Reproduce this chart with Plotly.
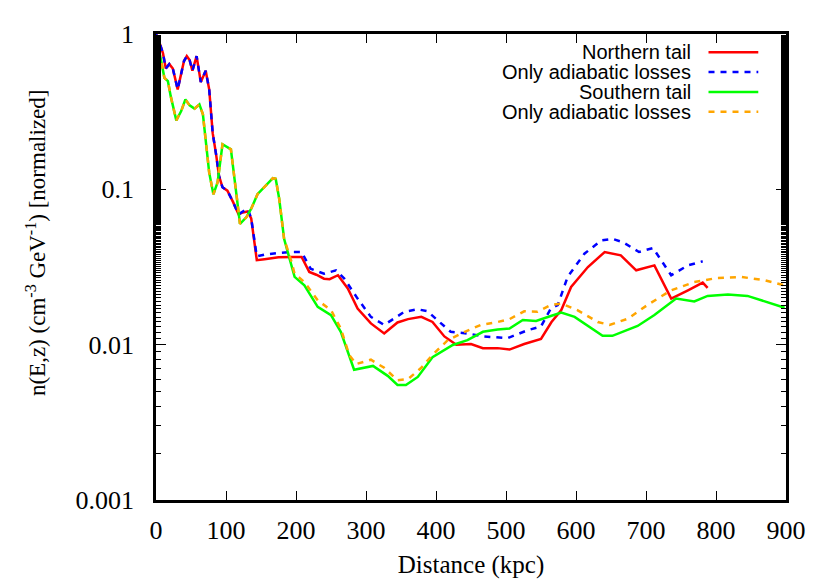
import plotly.graph_objects as go

# Northern tail (full losses)
north_x = [0, 5, 10, 14, 19, 24, 31, 40, 44, 48, 52, 58, 64, 71, 76, 81, 86, 90, 95,
           102, 110, 118, 124, 131, 136, 144, 155, 175, 195, 208, 219, 229, 240, 248,
           260, 274, 288, 307, 326, 345, 360, 379, 395, 412, 429, 450, 467, 488, 505,
           526, 550, 565, 579, 593, 617, 641, 664, 686, 712, 736, 760, 781, 788]
north_y = [1.0, 0.88, 0.75, 0.6, 0.64, 0.6, 0.44, 0.67, 0.72, 0.68, 0.58, 0.72, 0.49,
           0.58, 0.44, 0.23, 0.166, 0.122, 0.103, 0.098, 0.083, 0.069, 0.071, 0.072,
           0.065, 0.035, 0.0355, 0.0365, 0.0367, 0.0367, 0.0294, 0.0282, 0.0266,
           0.0264, 0.028, 0.023, 0.0171, 0.0137, 0.0118, 0.0139, 0.0146, 0.0151,
           0.014, 0.0113, 0.0100, 0.0101, 0.0095, 0.0095, 0.0093, 0.0101, 0.0109,
           0.0140, 0.0167, 0.0235, 0.0316, 0.0395, 0.0376, 0.0301, 0.0324, 0.0198,
           0.0224, 0.0251, 0.0232]

# Northern tail, only adiabatic losses
north_ad_x = [0, 5, 10, 14, 19, 24, 31, 40, 44, 48, 52, 58, 64, 71, 76, 81, 86, 90, 95,
              102, 110, 118, 124, 131, 136, 144, 155, 175, 195, 208, 221, 240, 257, 269,
              288, 307, 326, 355, 374, 388, 405, 421, 445, 469, 502, 531, 550, 564, 574,
              588, 612, 636, 652, 667, 690, 710, 736, 760, 781]
north_ad_y = [1.0, 0.88, 0.75, 0.6, 0.64, 0.6, 0.44, 0.67, 0.72, 0.68, 0.58, 0.72, 0.49,
              0.58, 0.44, 0.23, 0.166, 0.122, 0.103, 0.098, 0.083, 0.069, 0.072, 0.075,
              0.065, 0.037, 0.038, 0.039, 0.0395, 0.0395, 0.0308, 0.0286, 0.0301, 0.0266,
              0.0198, 0.0151, 0.0134, 0.0163, 0.0169, 0.0164, 0.014, 0.0121, 0.0118,
              0.0113, 0.011, 0.0124, 0.0131, 0.0171, 0.018, 0.0273, 0.0385, 0.0469,
              0.048, 0.0457, 0.0395, 0.0419, 0.028, 0.0324, 0.0344]

# Southern tail (full losses)
south_x = [0, 2, 7, 12, 17, 21, 29, 36, 42, 48, 55, 62, 67, 71, 76, 82, 88, 95, 102, 107,
           114, 120, 129, 136, 145, 157, 167, 171, 176, 183, 193, 198, 212, 231, 250,
           264, 283, 310, 331, 345, 357, 374, 395, 424, 445, 467, 488, 505, 524, 543,
           564, 579, 598, 638, 652, 688, 712, 743, 769, 788, 817, 845, 898]
south_y = [0.9, 0.875, 0.684, 0.522, 0.498, 0.398, 0.278, 0.319, 0.379, 0.347, 0.331,
           0.352, 0.304, 0.21, 0.128, 0.093, 0.111, 0.195, 0.186, 0.181, 0.1, 0.06,
           0.066, 0.075, 0.093, 0.106, 0.118, 0.117, 0.087, 0.048, 0.0324, 0.0273,
           0.0241, 0.0175, 0.0155, 0.0121, 0.0069, 0.0073, 0.0063, 0.0055, 0.0055,
           0.0062, 0.0083, 0.00995, 0.0107, 0.0121, 0.0125, 0.0127, 0.0144, 0.0142,
           0.0153, 0.0161, 0.0151, 0.0114, 0.0114, 0.0132, 0.0155, 0.0198, 0.019,
           0.0206, 0.021, 0.0206, 0.0173]

# Southern tail, only adiabatic losses
south_ad_x = [0, 2, 7, 12, 17, 21, 29, 36, 42, 48, 55, 62, 67, 71, 76, 82, 88, 95, 102,
              107, 114, 120, 129, 136, 145, 157, 167, 171, 176, 183, 193, 198, 212, 231,
              250, 264, 276, 286, 307, 326, 345, 360, 379, 395, 417, 441, 464, 488, 505,
              526, 545, 564, 579, 602, 631, 648, 674, 702, 736, 769, 802, 836, 869, 898]
south_ad_y = [0.92, 0.875, 0.684, 0.522, 0.498, 0.398, 0.278, 0.319, 0.379, 0.347, 0.331,
              0.352, 0.304, 0.21, 0.128, 0.093, 0.111, 0.195, 0.186, 0.181, 0.1, 0.06,
              0.066, 0.075, 0.093, 0.106, 0.118, 0.117, 0.087, 0.048, 0.0349, 0.0286,
              0.0253, 0.0193, 0.0167, 0.0127, 0.0086, 0.0075, 0.008, 0.0071, 0.0059,
              0.006, 0.0071, 0.0086, 0.0107, 0.0121, 0.0134, 0.014, 0.0146, 0.0164,
              0.0163, 0.018, 0.0184, 0.0167, 0.014, 0.0134, 0.0147, 0.018, 0.0224,
              0.0253, 0.0269, 0.0273, 0.026, 0.0241]

series = [
    ('Northern tail', north_x, north_y, '#ff0000', 'solid'),
    ('Only adiabatic losses', north_ad_x, north_ad_y, '#0000ff', '6px,6px'),
    ('Southern tail', south_x, south_y, '#00ff00', 'solid'),
    ('Only adiabatic losses', south_ad_x, south_ad_y, '#ffa500', '6px,6px'),
]

y_ticks = [0.001, 0.01, 0.1, 1]
y_labels = ['0.001', '0.01', '0.1', '1']

fig = go.Figure()
for name, xs, ys, color, dash in series:
    fig.add_trace(go.Scatter(x=xs, y=ys, mode='lines', name=name, showlegend=False,
                             line=dict(color=color, width=2.5, dash=dash)))

# gnuplot-style key: text on the left, sample on the right
for i, (name, xs, ys, color, dash) in enumerate(series):
    ypos = 0.961 - i * 0.0427
    fig.add_annotation(xref='paper', yref='paper', x=0.852, y=ypos, text=name,
                       showarrow=False, xanchor='right', yanchor='middle',
                       font=dict(family='Liberation Sans', size=20, color='black'))
    fig.add_shape(type='line', xref='paper', yref='paper', x0=0.877, x1=0.956,
                  y0=ypos, y1=ypos, line=dict(color=color, width=2.5, dash=dash))

fig.add_annotation(xref='paper', yref='paper', x=-0.19, y=0.552, textangle=-90,
                   text='n(E,z) (cm<sup>-3</sup> GeV<sup>-1</sup>) [normalized]',
                   showarrow=False, xanchor='center', yanchor='middle',
                   font=dict(family='Liberation Serif', size=23, color='black'))

axis_style = dict(showline=True, linecolor='black', linewidth=2.5, mirror='allticks',
                  ticks='inside', tickcolor='black', tickwidth=1.2, showgrid=False,
                  zeroline=False, tickfont=dict(family='Liberation Serif', size=26, color='black'))

fig.update_layout(
    width=830, height=581,
    margin=dict(l=148, r=52, t=23, b=89),
    plot_bgcolor='white', paper_bgcolor='white',
    showlegend=False,
    xaxis=dict(range=[0, 900], tickvals=list(range(0, 901, 100)), ticklen=9,
               title=dict(text='Distance (kpc)', standoff=12,
                          font=dict(family='Liberation Serif', size=25, color='black')),
               ticklabelstandoff=5, **axis_style),
    yaxis=dict(type='log', range=[-3, 0], tickvals=y_ticks, ticktext=y_labels, ticklen=10,
               minor=dict(ticks='inside', ticklen=5, tickcolor='black', tickwidth=1.2,
                          showgrid=False),
               ticklabelstandoff=14, **axis_style),
)

fig.write_html("out.html")
